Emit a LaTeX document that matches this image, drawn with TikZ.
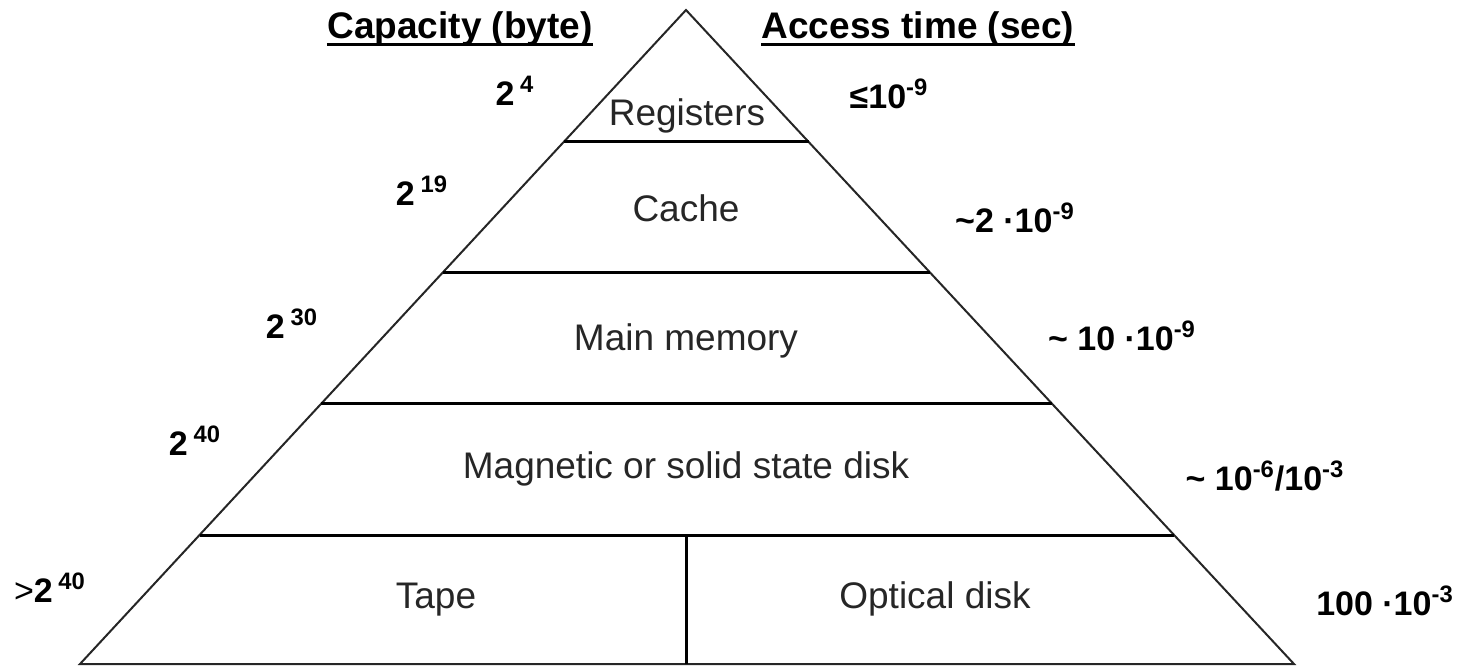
\documentclass[tikz,border=0pt]{standalone}
\usepackage{fontspec}
\setmainfont{Liberation Sans}
\usetikzlibrary{calc}
\begin{document}
\begin{tikzpicture}[x=0.5pt,y=-0.5pt,
   level label/.style={font=\fontsize{18.5}{21}\selectfont,text=black!85,anchor=base},
   side label/.style={font=\fontsize{17}{20}\selectfont\bfseries,anchor=base},
   head label/.style={font=\fontsize{18.5}{22}\selectfont\bfseries,anchor=base,inner sep=0pt},
   edge/.style={line width=1pt,black!85},
   rule/.style={line width=1.5pt}]
\useasboundingbox (0,0) rectangle (1464,665);
% pyramid outline
\coordinate (top) at (686,10);
\coordinate (bl) at (80,664);
\coordinate (br) at (1294,664);
\coordinate (bm) at (686,664);
\draw[edge] (bl) -- (top) -- (br) -- cycle;
% levels
\foreach \t/\n in {0.2018/a,0.4006/b,0.6024/c,0.8028/d}{
  \coordinate (l\n) at ($(top)!\t!(bl)$);
  \coordinate (r\n) at ($(top)!\t!(br)$);
  \draw[rule] (l\n) -- (r\n);
}
\draw[rule] (ld -| top) -- (bm);
% headers
\node[head label] (cap) at (460,38) {Capacity (byte)};
\node[head label] (acc) at (918,38) {Access time (sec)};
\draw[line width=1.5pt] ([yshift=-3pt]cap.base west) -- ([yshift=-3pt]cap.base east);
\draw[line width=1.5pt] ([yshift=-3pt]acc.base west) -- ([yshift=-3pt]acc.base east);
% memory levels
\node[level label] (reg) at (687,125) {Registers};
\node[level label] (cache) at (686,221) {Cache};
\node[level label] (main) at (686,350) {Main memory};
\node[level label] (disk) at (686,478) {Magnetic or solid state disk};
\node[level label] (tape) at (436,608) {Tape};
\node[level label] (optic) at (935,608) {Optical disk};
% capacities
\node[side label] (c1) at (515,105) {2\,\textsuperscript{4}};
\node[side label] (c2) at (422,205) {2\,\textsuperscript{19}};
\node[side label] (c3) at (292,338) {2\,\textsuperscript{30}};
\node[side label] (c4) at (195,455) {2\,\textsuperscript{40}};
\node[side label] (c5) at (50,602) {\mdseries>\bfseries2\,\textsuperscript{40}};
% access times
\node[side label] (t1) at (889,108) {≤10\textsuperscript{-9}};
\node[side label] (t2) at (1015,232) {\textasciitilde2 ·10\textsuperscript{-9}};
\node[side label] (t3) at (1122,350) {\textasciitilde{} 10 ·10\textsuperscript{-9}};
\node[side label] (t4) at (1265,490) {\textasciitilde{} 10\textsuperscript{-6}/10\textsuperscript{-3}};
\node[side label] (t5) at (1385,615) {100 ·10\textsuperscript{-3}};
\end{tikzpicture}
\end{document}
